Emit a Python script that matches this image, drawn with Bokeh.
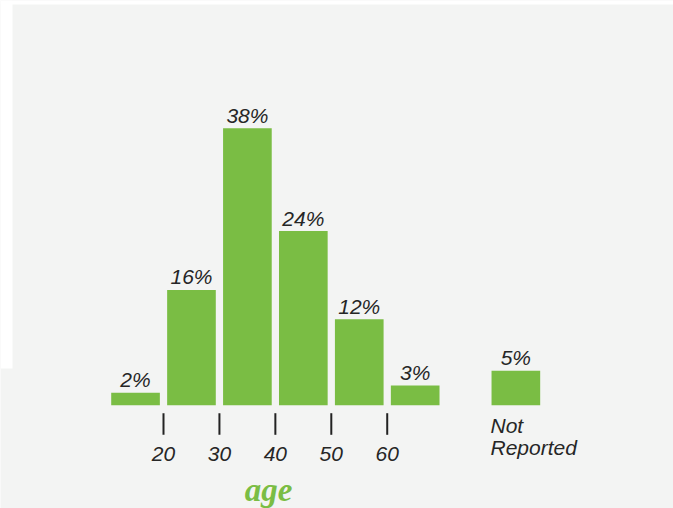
from bokeh.plotting import figure
from bokeh.models import ColumnDataSource, Range1d, BoxAnnotation
from bokeh.core.properties import value
from bokeh.embed import file_html
from bokeh.resources import INLINE

# ---- data ----
age_bins = [15, 25, 35, 45, 55, 65]          # mid-points of the age bins (10-20, 20-30, ...)
pct = [2, 16, 38, 24, 12, 3]                 # percent per age bin
not_reported_pct = 5
tick_values = [20, 30, 40, 50, 60]
tick_labels = ["20", "30", "40", "50", "60"]
nr_label_lines = ["Not", "Reported"]
axis_title = "age"

GREEN = "#7abd44"
BG = "#f3f4f3"
TXT = "#262626"
FONT = value("Liberation Sans")
NR_X = 83
BAR_W = 8.7
BASE = 0.3
SHIFT = -8.5   # baseline correction for 21px text in svg output

W, H = 673, 508
X0, X1 = -9.144, 111.185
Y0, Y1 = -13.741, 55.374

p = figure(width=W, height=H, output_backend="svg", toolbar_location=None,
           x_range=Range1d(X0, X1), y_range=Range1d(Y0, Y1),
           x_axis_location=None, y_axis_location=None,
           min_border=0, min_border_left=0, min_border_right=0,
           min_border_top=0, min_border_bottom=0)
p.background_fill_color = BG
p.border_fill_color = BG
p.outline_line_color = None
p.grid.visible = False

# white page edges seen in the reference
p.add_layout(BoxAnnotation(left=X0, right=X0 + 12 * (X1 - X0) / W,
                           bottom=Y1 - 368 * (Y1 - Y0) / H, top=Y1,
                           fill_color="white", fill_alpha=1, line_color=None,
                           level="underlay"))
p.add_layout(BoxAnnotation(left=X0, right=X1,
                           bottom=Y1 - 4 * (Y1 - Y0) / H, top=Y1,
                           fill_color="white", fill_alpha=1, line_color=None,
                           level="underlay"))

xs = age_bins + [NR_X]
ys = pct + [not_reported_pct]
src = ColumnDataSource(dict(x=xs, top=ys, label=[f"{v}%" for v in ys]))
p.vbar(x="x", top="top", bottom=BASE, width=BAR_W, source=src,
       fill_color=GREEN, line_color=None)
p.text(x="x", y="top", text="label", source=src, y_offset=-4.5 + SHIFT,
       text_align="center", text_baseline="alphabetic",
       text_font=FONT, text_font_style="italic",
       text_font_size="21px", text_color=TXT)

# x axis: tick marks and labels
tsrc = ColumnDataSource(dict(x=tick_values, label=tick_labels))
p.segment(x0="x", x1="x", y0=-0.776, y1=-3.714, source=tsrc,
          line_color="#222222", line_width=2)
p.text(x="x", y=-7.483, text="label", source=tsrc, text_align="center",
       y_offset=SHIFT,
       text_baseline="alphabetic", text_font=FONT, text_font_style="italic",
       text_font_size="21px", text_color=TXT)

nsrc = ColumnDataSource(dict(x=[78.47] * len(nr_label_lines),
                             y=[-3.673 - i * 2.993 for i in range(len(nr_label_lines))],
                             label=nr_label_lines))
p.text(x="x", y="y", text="label", source=nsrc, text_align="left",
       y_offset=SHIFT,
       text_baseline="alphabetic", text_font=FONT, text_font_style="italic",
       text_font_size="21px", text_color=TXT)

p.text(x=[38.77], y=[-12.517], text=[axis_title], text_align="center",
       y_offset=-9.5,
       text_baseline="alphabetic", text_font=value("Liberation Serif"),
       text_font_style="bold italic", text_font_size="33px", text_color=GREEN)

open("out.html", "w").write(file_html(p, INLINE))
